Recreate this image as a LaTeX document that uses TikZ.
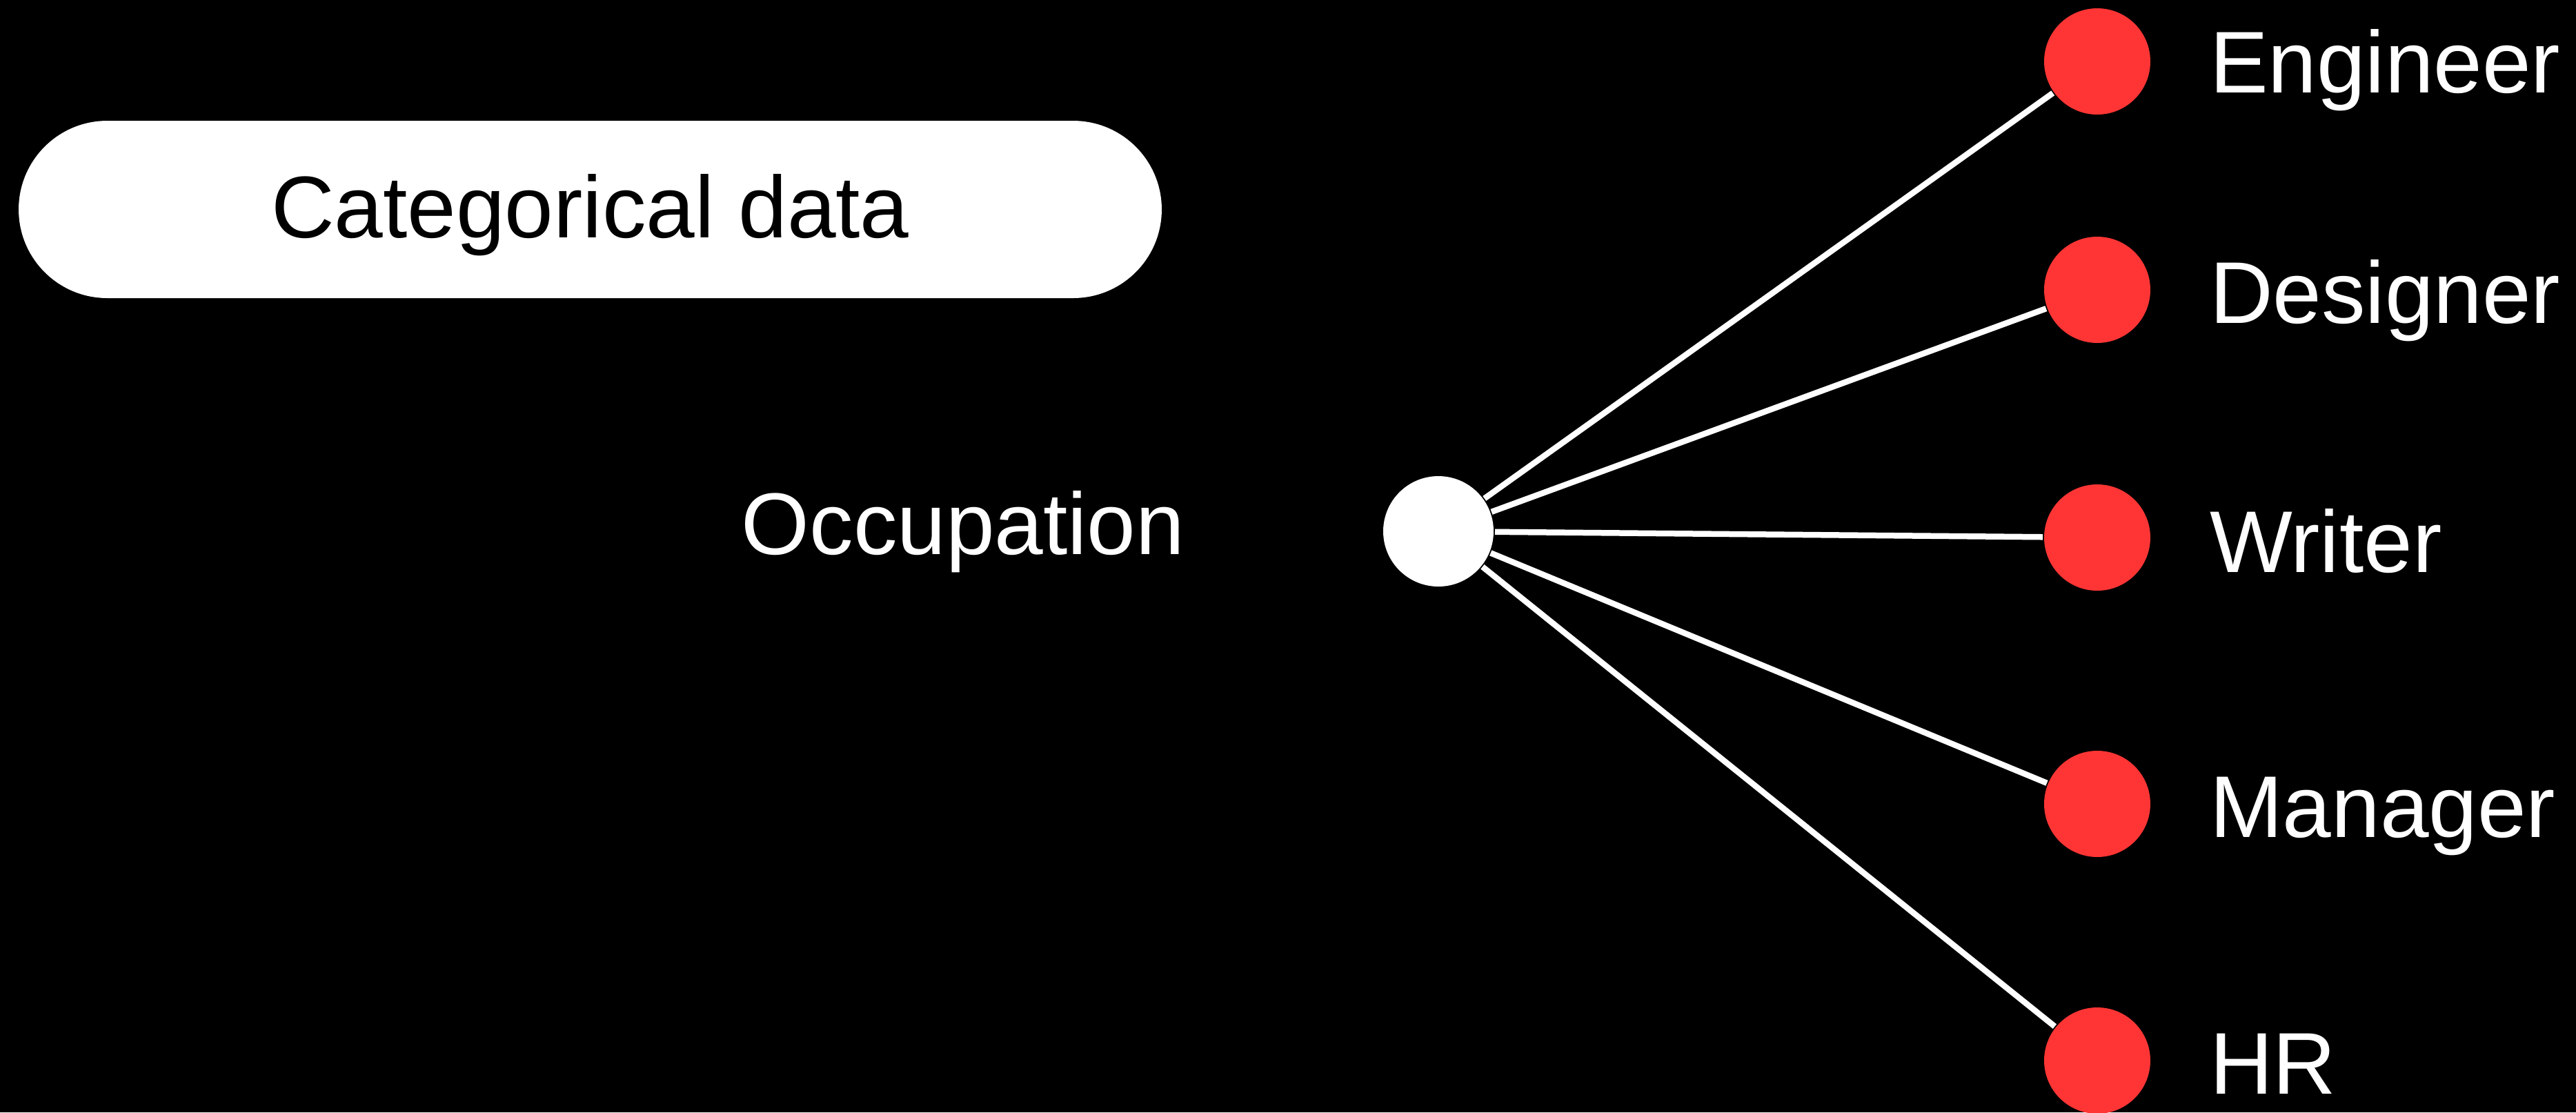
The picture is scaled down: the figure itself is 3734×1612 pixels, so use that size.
\documentclass[tikz,border=0pt]{standalone}
\usepackage{fontspec}
\setmainfont{Liberation Sans}
\definecolor{dotred}{HTML}{FF3535}
\begin{document}
\begin{tikzpicture}[x=0.1pt,y=-0.1pt,
  txt/.style={font=\fontsize{12.7pt}{15pt}\selectfont, inner sep=0pt},
  lbl/.style={txt, text=white, anchor=base west},
  reddot/.style={circle, fill=dotred, minimum size=15.4pt, inner sep=0pt},
  hub/.style={circle, fill=white, minimum size=16pt, inner sep=0pt},
  link/.style={draw=white, line width=0.85pt},
  pill/.style={txt, fill=white, text=black, rounded corners=12.85pt,
    minimum width=165.7pt, minimum height=25.7pt, text height=9.1pt, text depth=1pt}]
\fill[black] (0,0) rectangle (3734,1612);
\useasboundingbox (0,0) rectangle (3734,1612);

\node[pill] (cat) at (855.5,303.5) {Categorical data};
\node[txt, text=white, anchor=base] (occlbl) at (1396,803) {Occupation};

\node[hub] (occ) at (2085,770) {};
\node[reddot] (eng) at (3040,89) {};
\node[reddot] (des) at (3040,420) {};
\node[reddot] (wri) at (3040,779) {};
\node[reddot] (man) at (3040,1165) {};
\node[reddot] (hr)  at (3040,1537) {};

\foreach \t in {eng,des,wri,man,hr}
  \draw[link] (occ) -- (\t);

\node[lbl] (engl) at (3201,134) {Engineer};
\node[lbl] (desl) at (3201,468) {Designer};
\node[lbl] (wril) at (3201,829) {Writer};
\node[lbl] (manl) at (3201,1213) {Manager};
\node[lbl] (hrl)  at (3201,1585) {HR};
\end{tikzpicture}
\end{document}
